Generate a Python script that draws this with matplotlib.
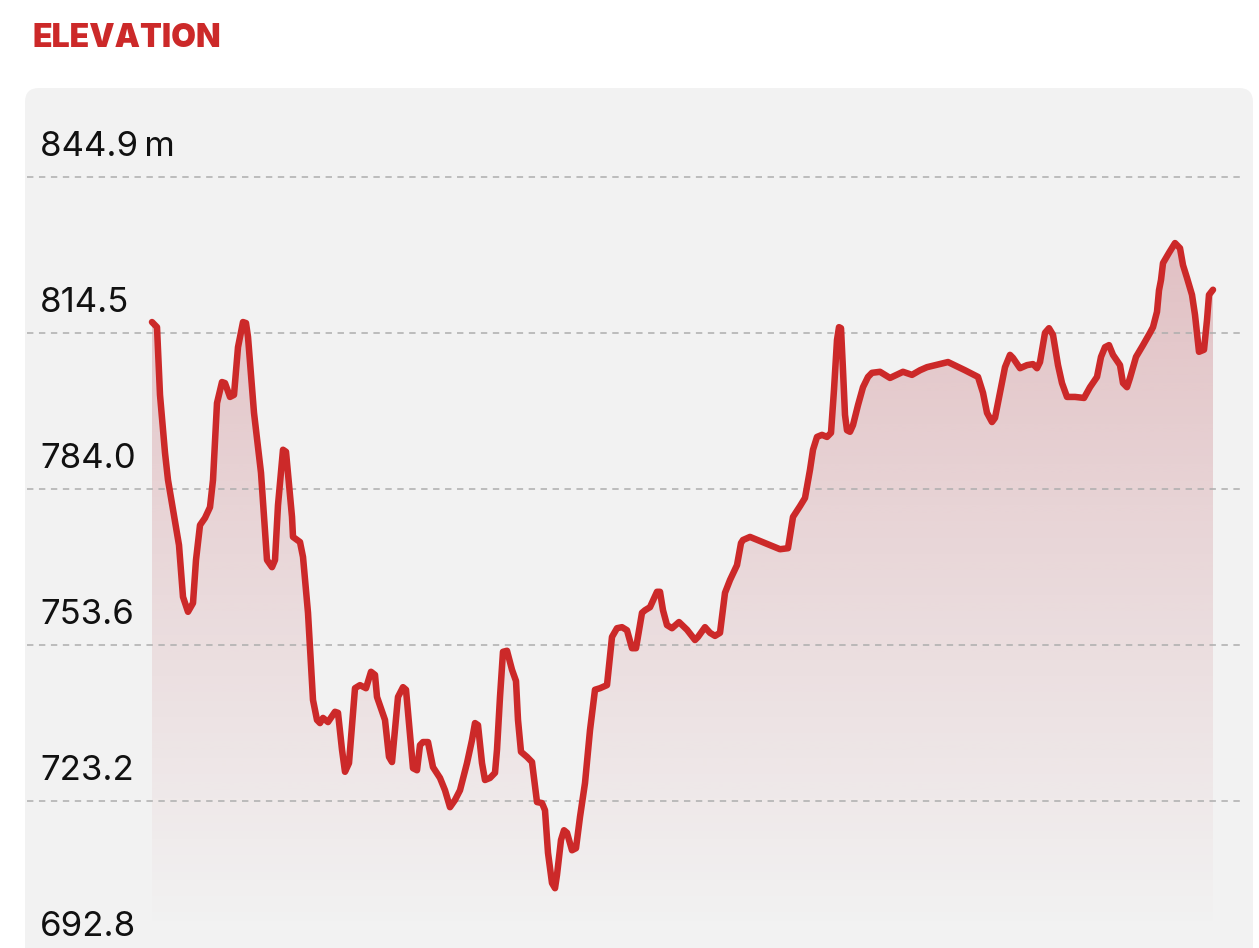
import numpy as np
import matplotlib.pyplot as plt
from matplotlib.patches import FancyBboxPatch, Polygon
from matplotlib.transforms import IdentityTransform

# elevation profile (distance in km, elevation in m)
dist_km = [0.02, 0.07, 0.10, 0.15, 0.18, 0.29, 0.33, 0.38, 0.43, 0.46, 0.50, 0.55,
           0.60, 0.63, 0.67, 0.72, 0.75, 0.80, 0.84, 0.88, 0.93, 0.96, 0.98, 1.04,
           1.11, 1.17, 1.22, 1.25, 1.28, 1.33, 1.36, 1.42, 1.43, 1.50, 1.53, 1.58,
           1.63, 1.67, 1.70, 1.73, 1.78, 1.85, 1.88, 1.92, 1.95, 1.99, 2.05, 2.10,
           2.16, 2.21, 2.25, 2.27, 2.35, 2.39, 2.42, 2.48, 2.53, 2.56, 2.63, 2.67,
           2.70, 2.73, 2.78, 2.83, 2.90, 2.95, 3.00, 3.05, 3.10, 3.17, 3.22, 3.25,
           3.28, 3.32, 3.35, 3.40, 3.45, 3.47, 3.50, 3.53, 3.57, 3.62, 3.66, 3.68,
           3.71, 3.77, 3.82, 3.87, 3.92, 3.95, 3.98, 4.02, 4.05, 4.07, 4.11, 4.14,
           4.17, 4.22, 4.26, 4.30, 4.35, 4.40, 4.45, 4.50, 4.57, 4.62, 4.67, 4.72,
           4.77, 4.82, 4.86, 4.92, 4.95, 5.00, 5.07, 5.10, 5.13, 5.17, 5.22, 5.29,
           5.37, 5.45, 5.48, 5.55, 5.60, 5.65, 5.70, 5.75, 5.80, 5.87, 5.91, 5.93,
           6.00, 6.10, 6.20, 6.30, 6.38, 6.43, 6.50, 6.55, 6.60, 6.63, 6.67, 6.72,
           6.77, 6.81, 6.84, 6.87, 6.89, 6.91, 6.93, 6.95, 6.97, 7.00, 7.03, 7.08,
           7.13, 7.18, 7.22, 7.30, 7.40, 7.53, 7.62, 7.70, 7.77, 7.98, 8.15, 8.28,
           8.33, 8.37, 8.42, 8.45, 8.50, 8.55, 8.60, 8.63, 8.70, 8.77, 8.83, 8.87,
           8.90, 8.95, 8.99, 9.03, 9.08, 9.12, 9.17, 9.25, 9.34, 9.40, 9.47, 9.51,
           9.55, 9.59, 9.63, 9.70, 9.73, 9.77, 9.80, 9.86, 9.93, 10.00, 10.03, 10.07,
           10.09, 10.11, 10.13, 10.19, 10.25, 10.30, 10.33, 10.37, 10.42, 10.45, 10.49,
           10.54, 10.57, 10.59, 10.63]
elev_m = [816.6, 815.6, 802.4, 791.1, 785.8, 773.1, 763.0, 760.1, 761.8, 770.2, 777.0, 778.4,
          780.5, 785.8, 800.8, 804.9, 804.7, 802.0, 802.4, 811.7, 816.6, 816.4, 813.7, 798.9,
          787.2, 770.2, 768.8, 770.2, 780.9, 791.7, 791.3, 778.6, 774.7, 773.7, 770.8, 759.9,
          742.9, 739.0, 738.4, 739.4, 738.6, 740.6, 740.4, 733.2, 728.9, 730.6, 745.2, 745.8,
          745.2, 748.4, 747.8, 743.5, 739.0, 731.8, 730.8, 743.5, 745.4, 744.9, 729.6, 729.2,
          734.1, 734.7, 734.7, 729.8, 727.7, 725.3, 722.0, 723.4, 725.3, 730.6, 735.1, 738.4,
          738.0, 730.6, 727.3, 727.7, 728.7, 733.2, 743.5, 752.3, 752.5, 748.8, 746.6, 739.0,
          732.8, 731.8, 730.8, 723.0, 722.8, 721.4, 713.1, 707.2, 706.2, 708.8, 715.6, 717.5,
          717.0, 713.6, 714.0, 720.1, 726.7, 737.0, 744.9, 745.2, 745.8, 755.2, 756.9, 757.1,
          756.5, 753.0, 753.0, 759.9, 760.4, 761.0, 764.0, 764.0, 760.4, 757.5, 756.9, 758.1,
          756.6, 754.6, 755.2, 757.1, 756.0, 755.4, 756.0, 763.8, 766.3, 769.2, 773.5, 774.1,
          774.7, 773.9, 773.1, 772.3, 772.5, 778.6, 780.7, 782.3, 787.8, 791.7, 794.2, 794.6,
          794.2, 795.0, 803.4, 813.1, 815.6, 815.4, 807.2, 798.5, 795.5, 795.2, 796.5, 800.4,
          803.9, 805.9, 806.7, 806.9, 805.7, 806.9, 806.3, 807.2, 807.8, 808.8, 807.2, 805.9,
          802.8, 798.9, 797.1, 797.9, 802.8, 807.8, 810.2, 809.6, 807.6, 808.2, 808.4, 807.6,
          808.8, 814.5, 815.4, 814.1, 808.2, 804.7, 802.0, 802.0, 801.8, 803.9, 805.9, 809.8,
          811.7, 812.1, 810.2, 808.2, 804.7, 803.9, 805.7, 809.8, 812.1, 814.5, 815.6, 818.6,
          822.8, 824.8, 828.1, 830.1, 832.0, 831.0, 827.7, 825.2, 821.9, 818.0, 810.8,
          811.2, 817.0, 821.9, 822.9]

tick_vals = [692.8, 723.2, 753.6, 784.0, 814.5, 844.9]
tick_labels = ['692.8', '723.2', '753.6', '784.0', '814.5', '844.9\u2009m']

RED = '#cc2929'
W, H = 1259, 948

plt.rcParams['lines.scale_dashes'] = False
plt.rcParams['font.family'] = ['Inter', 'DejaVu Sans']

fig = plt.figure(figsize=(W / 100, H / 100), dpi=100)
fig.patch.set_facecolor('white')

# grey rounded panel (pixel coordinates)
panel = FancyBboxPatch((25, -30), 1228, H - 88 + 30,
                       boxstyle='round,pad=0,rounding_size=14',
                       transform=IdentityTransform(), fc='#f2f2f2', ec='none', zorder=-1)
fig.add_artist(panel)

fig.text(32 / W, 1 - 47 / H, 'ELEVATION', va='baseline', ha='left',
         fontsize=23, fontweight='black', color=RED)

ax = fig.add_axes([27 / W, 0, (1245 - 27) / W, 1 - 88 / H])
ax.patch.set_alpha(0)
for s in ax.spines.values():
    s.set_visible(False)
ax.set_xticks([])
ax.set_yticks([])

x = np.array(dist_km)
y = np.array(elev_m)

# gradient fill under the line
fade_bottom = 698.0
top = y.max()
n = 256
rgba = np.zeros((n, 1, 4))
rgba[..., 0] = 192 / 255
rgba[..., 1] = 92 / 255
rgba[..., 2] = 102 / 255
rgba[..., 3] = np.linspace(0, 0.33, n)[:, None]
im = ax.imshow(rgba, extent=[x[0], x[-1], fade_bottom, top], origin='lower',
               aspect='auto', zorder=1, interpolation='bilinear')
verts = list(zip(x, y)) + [(x[-1], tick_vals[0] - 5), (x[0], tick_vals[0] - 5)]
clip = Polygon(verts, closed=True, fc='none', ec='none', transform=ax.transData)
ax.add_patch(clip)
im.set_clip_path(clip)

for v, lbl in zip(tick_vals, tick_labels):
    ax.axhline(v, color='#adadad', lw=1.1, linestyle=(0, (4.6, 4.0)), zorder=2)
    ax.annotate(lbl, xy=(0, v), xycoords=('axes fraction', 'data'),
                xytext=(9.4, 15), textcoords='offset points',
                ha='left', va='baseline', fontsize=25, color='#111111')

ax.plot(x, y, color=RED, lw=4.7, solid_joinstyle='round', solid_capstyle='round', zorder=3)

ax.set_xlim(-1.23, 10.95)
ax.set_ylim(694.54, 862.24)

fig.savefig('out.png', dpi=100)
